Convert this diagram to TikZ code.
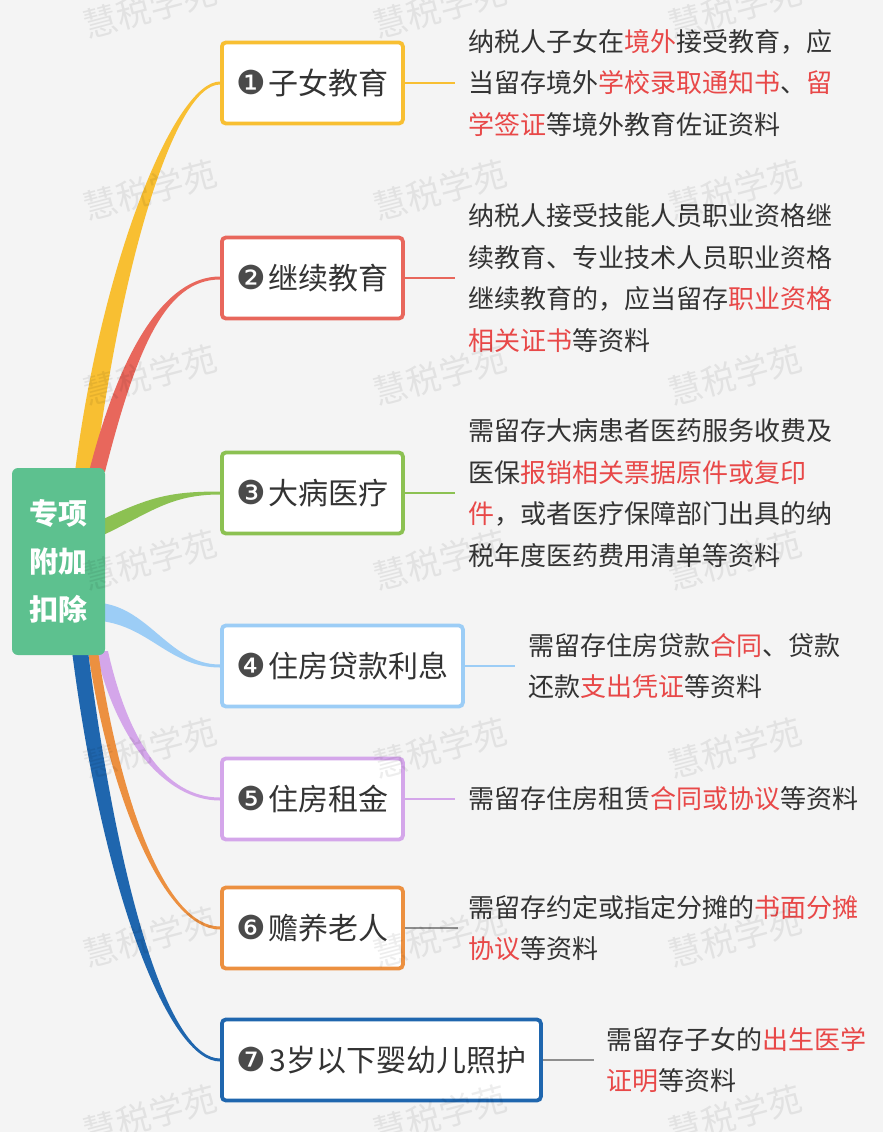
\documentclass[tikz,border=0pt]{standalone}
\usepackage{fontspec}
\setmainfont{Noto Sans CJK SC}
\newfontfamily\dingfont{DejaVu Sans}
\definecolor{MMBack}{HTML}{F4F4F4}
\definecolor{MMRoot}{HTML}{5DC18F}
\definecolor{MMYellow}{HTML}{F8BF32}
\definecolor{MMRed}{HTML}{E8675C}
\definecolor{MMGreen}{HTML}{8CC152}
\definecolor{MMSky}{HTML}{9CCDF6}
\definecolor{MMPurple}{HTML}{D4A6EA}
\definecolor{MMOrange}{HTML}{EC9040}
\definecolor{MMNavy}{HTML}{1F66AE}
\definecolor{MMGray}{HTML}{8E8E8E}
\definecolor{MMText}{HTML}{333333}
\definecolor{MMHigh}{HTML}{E84848}
\definecolor{MMDot}{HTML}{4A4A4A}
\usepackage{tikz}
\usetikzlibrary{positioning,calc}

\pgfdeclarelayer{bg}
\pgfdeclarelayer{links}
\pgfsetlayers{bg,links,main}

\newcommand{\hilite}[1]{\textcolor{MMHigh}{#1}}
\newcommand{\numdot}[1]{{\dingfont\fontsize{33}{33}\selectfont\textcolor{MMDot}{#1}}\hspace{3pt}}
% tapered branch: colour, start, control 1, control 2, end, half width at start
\newcommand{\branch}[6]{%
  \fill[#1] ($#2+#6$) .. controls ($#3+#6$) and ($#4+(0,1.5)$) .. ($#5+(0,1.5)$)
    -- ($#5+(0,-1.5)$) .. controls ($#4+(0,-1.5)$) and ($#3-#6$) .. ($#2-#6$) -- cycle;}

\tikzset{
  catbox/.style={draw=#1, line width=3.8pt, rounded corners=4pt, fill=white, minimum height=81pt,
    anchor=west, font=\fontsize{30}{30}\selectfont, text=MMText},
  leafnote/.style={inner sep=0pt, align=left, font=\fontsize{26}{41.5}\selectfont, text=MMText, right=63pt of #1},
  twig/.style={draw=#1, line width=2pt},
}

\begin{document}
\begin{tikzpicture}[x=1pt, y=-1pt]
    \useasboundingbox (0,0) rectangle (883,1132);
    \begin{pgfonlayer}{bg}
      \fill[MMBack] (0,0) rectangle (883,1132);
    \end{pgfonlayer}

    \node[fill=MMRoot, rounded corners=6pt, minimum width=93pt, minimum height=187pt, text=white, align=center,
      font=\fontsize{29}{48}\selectfont\bfseries] (root) at (58.5,561.5) {专项\\附加\\扣除};

    \node[catbox=MMYellow, minimum width=181pt] (b1) at (220,83) {\numdot{❶}子女教育};
    \node[catbox=MMRed, minimum width=181pt] (b2) at (220,278) {\numdot{❷}继续教育};
    \node[catbox=MMGreen, minimum width=181pt] (b3) at (220,493) {\numdot{❸}大病医疗};
    \node[catbox=MMSky, minimum width=241pt] (b4) at (220,666) {\numdot{❹}住房贷款利息};
    \node[catbox=MMPurple, minimum width=181pt] (b5) at (220,799) {\numdot{❺}住房租金};
    \node[catbox=MMOrange, minimum width=181pt] (b6) at (220,928) {\numdot{❻}赡养老人};
    \node[catbox=MMNavy, minimum width=319pt] (b7) at (220,1060) {\numdot{❼}3岁以下婴幼儿照护};

    \begin{pgfonlayer}{links}
      \branch{MMYellow}{(root.north)+(26.5,4)}{(112,260)}{(175,83)}{(b1.west)}{(10,0)}
      \branch{MMRed}{(root.north)+(38.5,4)}{(128,350)}{(165,278)}{(b2.west)}{(8,0)}
      \branch{MMGreen}{(root.east)+(-4,-33.5)}{(150,505)}{(170,493)}{(b3.west)}{(0,8)}
      \branch{MMSky}{(root.east)+(-4,50.5)}{(150,618)}{(170,666)}{(b4.west)}{(0,9)}
      \branch{MMPurple}{(root.south)+(43.5,-4)}{(122,740)}{(165,799)}{(b5.west)}{(-6,0)}
      \branch{MMOrange}{(root.south)+(34.5,-4)}{(115,800)}{(165,928)}{(b6.west)}{(-5,0)}
      \branch{MMNavy}{(root.south)+(21.5,-4)}{(112,900)}{(170,1060)}{(b7.west)}{(-8,0)}
    \end{pgfonlayer}

    \node[leafnote=b1] (l1) {纳税人子女在\hilite{境外}接受教育，应\\当留存境外\hilite{学校录取通知书}、\hilite{留}\\\hilite{学签证}等境外教育佐证资料};
    \node[leafnote=b2] (l2) {纳税人接受技能人员职业资格继\\续教育、专业技术人员职业资格\\继续教育的，应当留存\hilite{职业资格}\\\hilite{相关证书}等资料};
    \node[leafnote=b3] (l3) {需留存大病患者医药服务收费及\\医保\hilite{报销相关票据原件或复印}\\\hilite{件}，或者医疗保障部门出具的纳\\税年度医药费用清单等资料};
    \node[leafnote=b4] (l4) {需留存住房贷款\hilite{合同}、贷款\\还款\hilite{支出凭证}等资料};
    \node[leafnote=b5] (l5) {需留存住房租赁\hilite{合同或协议}等资料};
    \node[leafnote=b6] (l6) {需留存约定或指定分摊的\hilite{书面分摊}\\\hilite{协议}等资料};
    \node[leafnote=b7] (l7) {需留存子女的\hilite{出生医学}\\\hilite{证明}等资料};

    \draw[twig=MMYellow] (b1.east) -- ([xshift=-13pt]l1.west);
    \draw[twig=MMRed] (b2.east) -- ([xshift=-13pt]l2.west);
    \draw[twig=MMGreen] (b3.east) -- ([xshift=-13pt]l3.west);
    \draw[twig=MMSky] (b4.east) -- ([xshift=-13pt]l4.west);
    \draw[twig=MMPurple] (b5.east) -- ([xshift=-13pt]l5.west);
    \draw[twig=MMGray] (b6.east) -- ([xshift=-10pt]l6.west);
    \draw[twig=MMGray] (b7.east) -- ([xshift=-12pt]l7.west);

    % watermark
    \foreach \wx in {150,440,735}
      \foreach \wy in {8,190,375,560,748,937,1115}
        \node[rotate=15, text=black, opacity=0.07, font=\fontsize{34}{34}\selectfont] at (\wx,\wy) {慧税学苑};
\end{tikzpicture}
\end{document}
